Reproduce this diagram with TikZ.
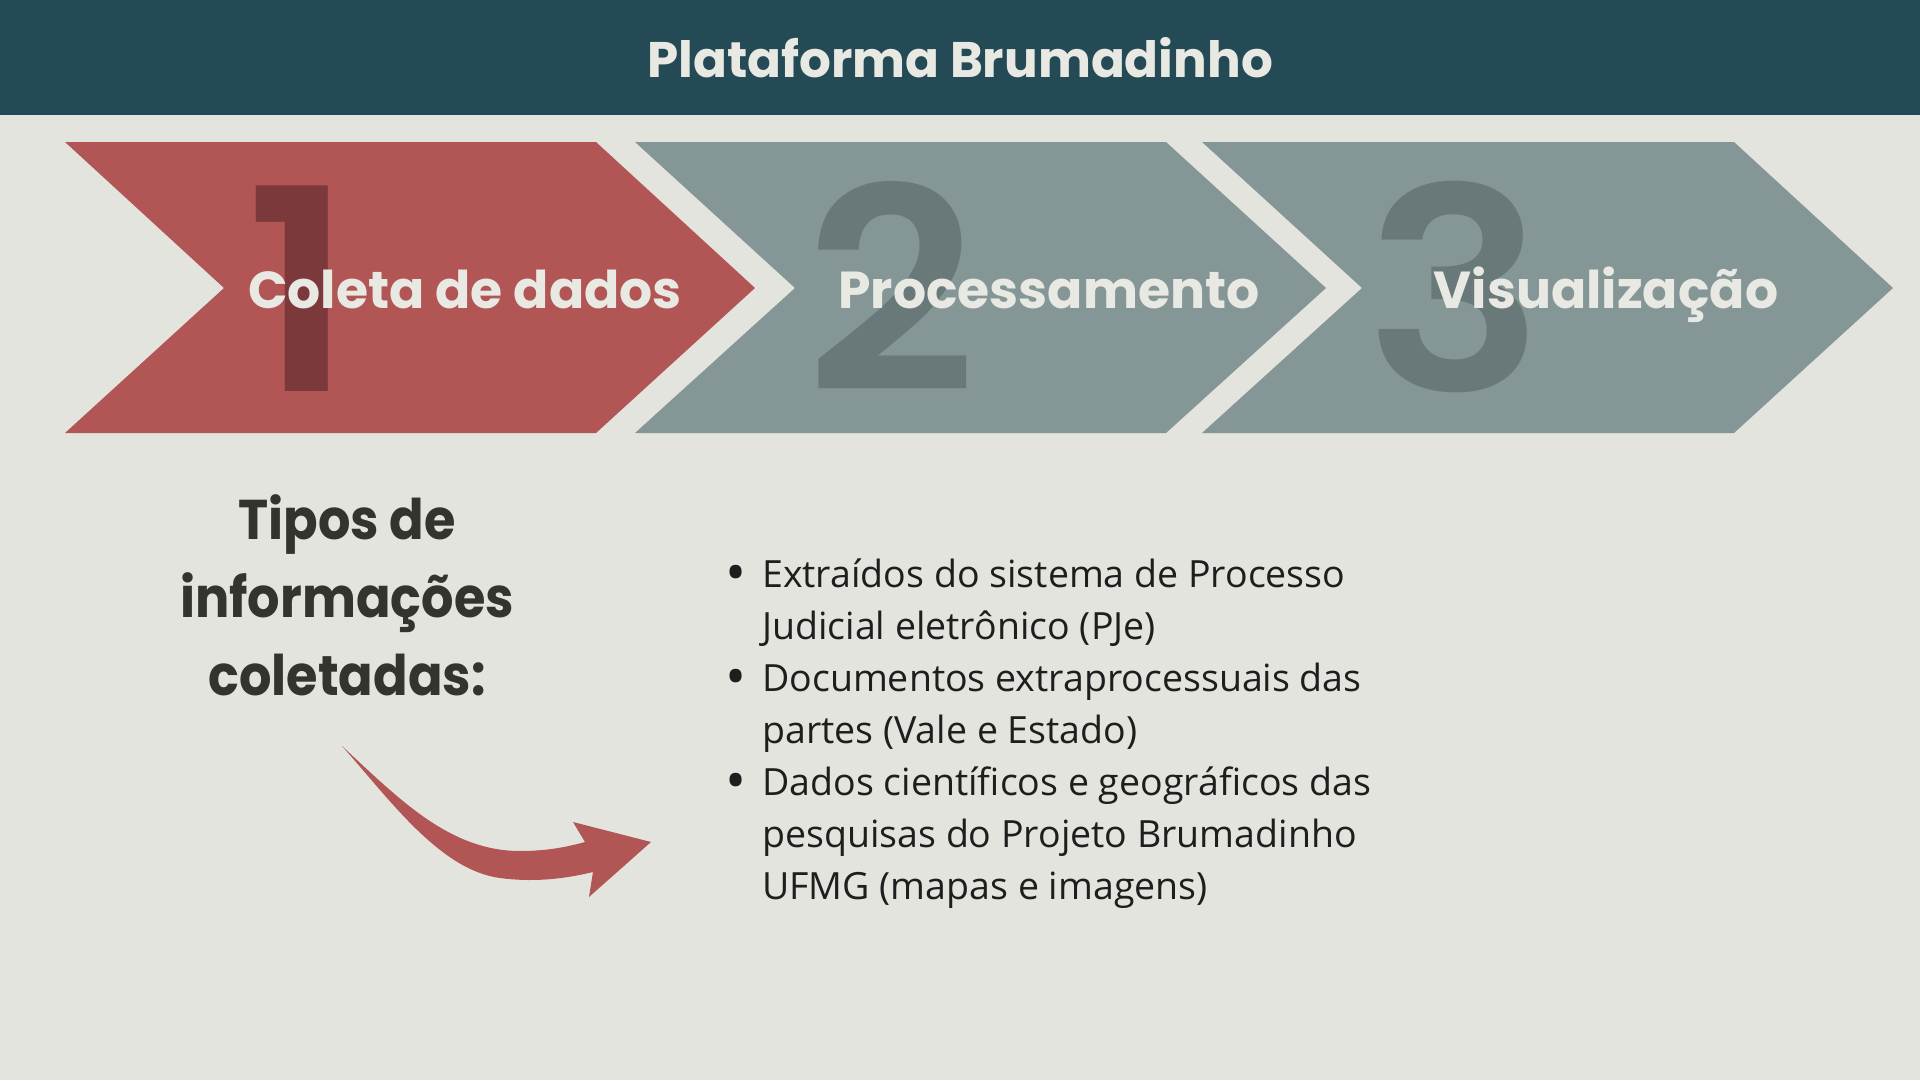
\documentclass[tikz,border=0pt]{standalone}
\usepackage{fontspec}
\setmainfont{Poppins}
\newfontfamily\bodyfont{Open Sans}
\newfontfamily\numfont{Poppins}[UprightFont=* SemiBold]
\definecolor{bg}{HTML}{E4E4DE}
\definecolor{head}{HTML}{244A56}
\definecolor{redc}{HTML}{B25555}
\definecolor{grayc}{HTML}{849696}
\definecolor{numred}{HTML}{7C393B}
\definecolor{numgray}{HTML}{697979}
\definecolor{lighttxt}{HTML}{E9E9E4}
\definecolor{darktxt}{HTML}{33332F}
\definecolor{bodytxt}{HTML}{1E1E1E}
\newcommand{\bigdot}{\raisebox{-5pt}{\fontsize{56}{52}\selectfont •}}
\tikzset{
  chev/.style={fill=#1, draw=none},
  bignum/.style={anchor=base, inner sep=0pt, text=#1, font=\numfont\fontsize{282}{282}\selectfont, xscale=1.06, transform shape},
  steplabel/.style={anchor=base, inner sep=0pt, text=lighttxt, font=\bfseries\fontsize{52}{60}\selectfont},
}
\begin{document}
\begin{tikzpicture}[x=1pt,y=-1pt]
\useasboundingbox (0,0) rectangle (1920,1080);
\fill[bg] (0,0) rectangle (1920,1080);
\fill[head] (0,0) rectangle (1920,115);
\node[anchor=base, inner sep=0pt, text=lighttxt, font=\bfseries\fontsize{50}{60}\selectfont] (title) at (960,77) {Plataforma Brumadinho};

% chevrons
\path[chev=redc] (65,142) -- (596,142) -- (755,288) -- (596,433) -- (65,433) -- (224,288) -- cycle;
\path[chev=grayc] (635,142) -- (1166,142) -- (1326,288) -- (1166,433) -- (635,433) -- (795,288) -- cycle;
\path[chev=grayc] (1202,142) -- (1734,142) -- (1893,288) -- (1734,433) -- (1202,433) -- (1362,288) -- cycle;

\node[bignum=numred] (n1) at (300,391) {1};
\node[bignum=numgray] (n2) at (891,391) {2};
\node[bignum=numgray] (n3) at (1455,391) {3};

\node[steplabel] (s1) at (465,308) {Coleta de dados};
\node[steplabel] (s2) at (1049,308) {Processamento};
\node[steplabel] (s3) at (1606,308) {Visualização};

% left heading
\node[anchor=north, inner sep=0pt, align=center, text=darktxt, font=\bfseries\fontsize{56}{78}\selectfont, xscale=0.91, transform shape] (tipos) at (347,494) {Tipos de\\informações\\coletadas:};

% arrow
\fill[redc] (342,746) .. controls (400,800) and (450,851) .. (520,851)
  .. controls (550,851) and (570,846) .. (585,842)
  -- (573,822) -- (651,842) -- (589,897) -- (593,872)
  .. controls (560,880) and (530,882) .. (500,878)
  .. controls (440,870) and (390,800) .. (342,746) -- cycle;

% bullets
\node[anchor=base west, inner sep=0pt, text=bodytxt, font=\bodyfont\fontsize{37.5}{52}\selectfont] (list) at (725,587) {%
\begin{tabular}[t]{@{}l@{\hspace{16pt}}l@{}}
\bigdot & Extraídos do sistema de Processo\\
 & Judicial eletrônico (PJe)\\
\bigdot & Documentos extraprocessuais das\\
 & partes (Vale e Estado)\\
\bigdot & Dados científicos e geográficos das\\
 & pesquisas do Projeto Brumadinho\\
 & UFMG (mapas e imagens)
\end{tabular}};
\end{tikzpicture}
\end{document}
